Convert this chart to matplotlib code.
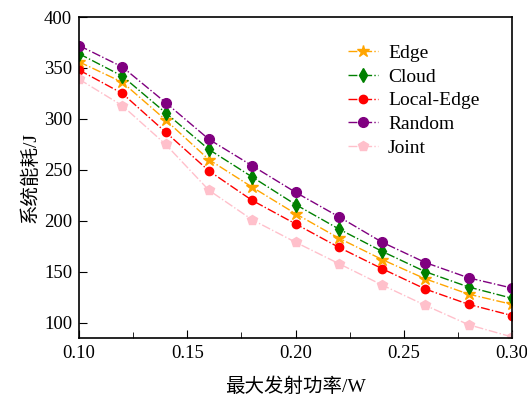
import matplotlib
matplotlib.use("Agg")
import matplotlib.pyplot as plt
import numpy as np
from matplotlib.ticker import MultipleLocator, FormatStrFormatter

plt.rcParams['font.family'] = ['Liberation Serif', 'Noto Sans CJK SC']
plt.rcParams['mathtext.fontset'] = 'stix'

power = [0.10, 0.12, 0.14, 0.16, 0.18, 0.20, 0.22, 0.24, 0.26, 0.28, 0.30]
edge = [356, 336, 299, 260, 233, 207, 183, 162, 143, 128, 118]
cloud = [364, 342, 306, 270, 243, 216, 192, 170, 150, 135, 124]
local_edge = [348, 325, 287, 249, 220, 197, 174, 153, 133, 118, 107]
random_ = [372, 351, 316, 280, 254, 228, 204, 179, 159, 144, 134]
joint = [339, 313, 275, 230, 201, 179, 158, 137, 117, 98, 86]

series = [
    ("Edge", edge, "orange", "*", 9),
    ("Cloud", cloud, "green", "d", 7),
    ("Local-Edge", local_edge, "red", "o", 6),
    ("Random", random_, "purple", "o", 7),
    ("Joint", joint, "pink", "p", 7),
]

fig = plt.figure(figsize=(5.27, 3.96), dpi=100)
ax = fig.add_axes([0.150, 0.1465, 0.8215, 0.8105])

for name, vals, col, mk, ms in series:
    ax.plot(power, vals, linestyle='-.', color=col, marker=mk, markersize=ms,
            linewidth=1, label=name)

ax.set_xlim(0.10, 0.30)
ax.set_ylim(85, 400)
ax.xaxis.set_major_locator(MultipleLocator(0.05))
ax.xaxis.set_minor_locator(MultipleLocator(0.025))
ax.yaxis.set_major_locator(MultipleLocator(50))
ax.xaxis.set_major_formatter(FormatStrFormatter('%.2f'))
ax.tick_params(direction='in', which='both', labelsize=13.5, top=False, right=False)
ax.tick_params(which='major', length=6, pad=5)
ax.tick_params(which='minor', length=4.5)
for s in ax.spines.values():
    s.set_linewidth(1.2)

ax.set_xlabel('最大发射功率/W', fontsize=14, labelpad=11)
ax.set_ylabel('系统能耗/J', fontsize=14, labelpad=3)
ax.legend(frameon=False, fontsize=14, loc='upper right',
          bbox_to_anchor=(0.965, 0.97), handlelength=1.55, handletextpad=0.5,
          labelspacing=0.32)

fig.savefig('out.png', dpi=100)
